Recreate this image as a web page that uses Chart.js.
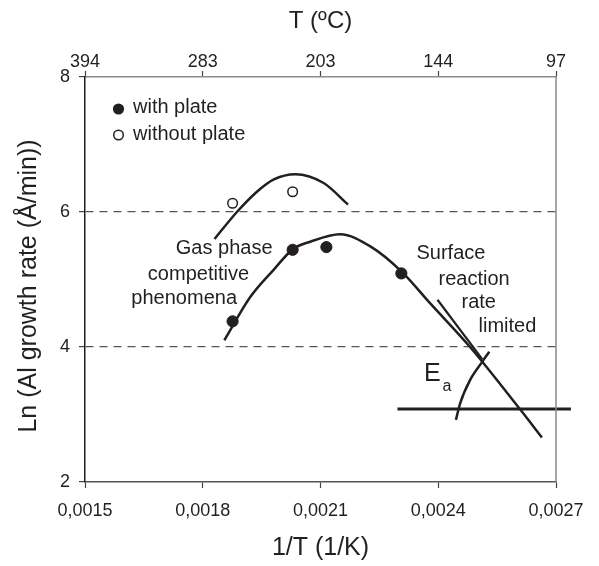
<!DOCTYPE html>
<html lang="en">
<head>
  <meta charset="UTF-8">
  <title>Al growth rate vs 1/T</title>
  <script src="https://cdn.jsdelivr.net/npm/chart.js"></script>
  <style>
    body {
      margin: 0;
      background: #fff;
    }
    #chart {
      display: block;
    }
  </style>
</head>
<body>
  <canvas id="chart" width="599" height="566"></canvas>

  <script>
    // axis ticks
    const xTickValues = [0.0015, 0.0018, 0.0021, 0.0024, 0.0027];
    const xTickLabels = ['0,0015', '0,0018', '0,0021', '0,0024', '0,0027'];
    const topTickLabels = ['394', '283', '203', '144', '97'];
    const yTickValues = [2, 4, 6, 8];
    const yTickLabels = ['2', '4', '6', '8'];

    // measured points
    const withPlateX = [0.001876, 0.002029, 0.002115, 0.002306];
    const withPlateY = [4.38, 5.44, 5.48, 5.09];
    const withoutPlateX = [0.001876, 0.002029];
    const withoutPlateY = [6.13, 6.30];

    // hand drawn trend curves
    const upperCurveX = [0.00183, 0.001887, 0.001938, 0.00198, 0.002036, 0.002108, 0.00217];
    const upperCurveY = [5.60, 6.00, 6.30, 6.48, 6.56, 6.43, 6.11];
    const lowerCurveX = [0.001855, 0.001921, 0.00198, 0.00203, 0.002074, 0.00215, 0.002227, 0.002306, 0.002379, 0.002481, 0.002608, 0.002664];
    const lowerCurveY = [4.10, 4.74, 5.14, 5.45, 5.56, 5.67, 5.49, 5.12, 4.65, 4.00, 3.08, 2.66];

    // activation energy construction
    const tangentX = [0.002398, 0.002512];
    const tangentY = [4.70, 3.82];
    const arcX = [0.002445, 0.002456, 0.002481, 0.002512, 0.00253];
    const arcY = [2.92, 3.17, 3.51, 3.78, 3.93];
    const baseLineX = [0.002296, 0.002738];
    const baseLineY = [3.08, 3.08];

    const ink = '#231f20';
    const fontFamily = '"Liberation Sans", Arial, Helvetica, sans-serif';

    function pts(xs, ys) {
      return xs.map((x, i) => ({ x: x, y: ys[i] }));
    }

    function lineSet(xs, ys, width, smooth) {
      return {
        data: pts(xs, ys),
        showLine: true,
        borderColor: ink,
        borderWidth: width,
        pointRadius: 0,
        cubicInterpolationMode: smooth ? 'monotone' : 'default',
        tension: smooth ? 0.4 : 0,
        fill: false
      };
    }

    const decorations = {
      id: 'decorations',
      afterDraw(chart) {
        const ctx = chart.ctx;
        const area = chart.chartArea;
        ctx.save();

        // right frame
        ctx.strokeStyle = '#8a8a8a';
        ctx.lineWidth = 1.5;
        ctx.beginPath();
        ctx.moveTo(area.right, area.top);
        ctx.lineTo(area.right, area.bottom);
        ctx.stroke();

        ctx.fillStyle = ink;
        ctx.textBaseline = 'middle';

        // y title
        ctx.save();
        ctx.translate(29, 286);
        ctx.rotate(-Math.PI / 2);
        ctx.textAlign = 'center';
        ctx.font = '25px ' + fontFamily;
        ctx.fillText('Ln (Al growth rate (Å/min))', 0, 0);
        ctx.restore();

        // legend
        ctx.font = '20px ' + fontFamily;
        ctx.textAlign = 'left';
        ctx.beginPath();
        ctx.arc(118.5, 109, 5.6, 0, Math.PI * 2);
        ctx.fill();
        ctx.fillText('with plate', 133, 107);
        ctx.beginPath();
        ctx.arc(118.5, 135, 4.8, 0, Math.PI * 2);
        ctx.lineWidth = 1.5;
        ctx.strokeStyle = ink;
        ctx.stroke();
        ctx.fillText('without plate', 133, 134);

        // notes
        ctx.textAlign = 'right';
        ctx.fillText('Gas phase', 272.5, 248);
        ctx.fillText('competitive', 249, 274);
        ctx.fillText('phenomena', 237, 298);
        ctx.textAlign = 'left';
        ctx.fillText('Surface', 416.5, 253);
        ctx.fillText('reaction', 438.5, 279);
        ctx.fillText('rate', 461.5, 302);
        ctx.fillText('limited', 478.5, 326);

        ctx.font = '25px ' + fontFamily;
        ctx.fillText('E', 424, 374);
        ctx.font = '16px ' + fontFamily;
        ctx.fillText('a', 442.5, 387);

        ctx.restore();
      }
    };

    new Chart(document.getElementById('chart'), {
      type: 'scatter',
      data: {
        datasets: [
          {
            data: pts(withPlateX, withPlateY),
            pointRadius: 5.6,
            pointBackgroundColor: ink,
            pointBorderColor: ink,
            pointBorderWidth: 1
          },
          {
            data: pts(withoutPlateX, withoutPlateY),
            pointRadius: 4.8,
            pointBackgroundColor: '#fff',
            pointBorderColor: ink,
            pointBorderWidth: 1.5
          },
          lineSet(upperCurveX, upperCurveY, 2.5, true),
          lineSet(lowerCurveX, lowerCurveY, 2.5, true),
          lineSet(tangentX, tangentY, 2.2, false),
          lineSet(arcX, arcY, 2.5, true),
          Object.assign(lineSet(baseLineX, baseLineY, 3, false), { clip: false })
        ]
      },
      options: {
        responsive: false,
        animation: false,
        devicePixelRatio: 1,
        layout: {
          padding: { left: 0, right: 43, top: 0, bottom: 0 }
        },
        plugins: {
          legend: { display: false },
          tooltip: { enabled: false }
        },
        scales: {
          x: {
            type: 'linear',
            position: 'bottom',
            min: 0.0015,
            max: 0.0027,
            afterBuildTicks: s => { s.ticks = xTickValues.map(v => ({ value: v })); },
            afterFit: s => { s.height = 84; },
            ticks: {
              callback: (v, i) => xTickLabels[i],
              font: { family: fontFamily, size: 18 },
              color: ink,
              padding: 12,
              maxRotation: 0
            },
            grid: {
              drawOnChartArea: false,
              tickLength: 6,
              tickColor: '#444',
              tickWidth: 1.2
            },
            border: { color: '#555', width: 1.5 },
            title: {
              display: true,
              text: '1/T (1/K)',
              font: { family: fontFamily, size: 25 },
              color: ink,
              padding: { top: 0, bottom: 3 }
            }
          },
          x2: {
            type: 'linear',
            position: 'top',
            min: 0.0015,
            max: 0.0027,
            afterBuildTicks: s => { s.ticks = xTickValues.map(v => ({ value: v })); },
            afterFit: s => { s.height = 77; },
            ticks: {
              callback: (v, i) => topTickLabels[i],
              font: { family: fontFamily, size: 18 },
              color: ink,
              padding: -2,
              maxRotation: 0
            },
            grid: {
              drawOnChartArea: false,
              tickLength: 6,
              tickColor: '#444',
              tickWidth: 1.2
            },
            border: { color: '#8a8a8a', width: 1.5 },
            title: {
              display: true,
              text: 'T (ºC)',
              font: { family: fontFamily, size: 24 },
              color: ink,
              padding: { top: 7, bottom: 0 }
            }
          },
          y: {
            type: 'linear',
            position: 'left',
            min: 2,
            max: 8,
            afterBuildTicks: s => { s.ticks = yTickValues.map(v => ({ value: v })); },
            afterFit: s => { s.width = 85; },
            ticks: {
              callback: (v, i) => yTickLabels[i],
              font: { family: fontFamily, size: 18 },
              color: ink,
              padding: 9
            },
            grid: {
              color: c => (c.tick && (c.tick.value === 4 || c.tick.value === 6)) ? '#555' : 'rgba(0,0,0,0)',
              lineWidth: 1.2,
              tickLength: 6,
              tickColor: '#444',
              tickWidth: 1.2
            },
            border: { color: ink, width: 1.5, dash: [8, 6] }
          }
        }
      },
      plugins: [decorations]
    });
  </script>
</body>
</html>
